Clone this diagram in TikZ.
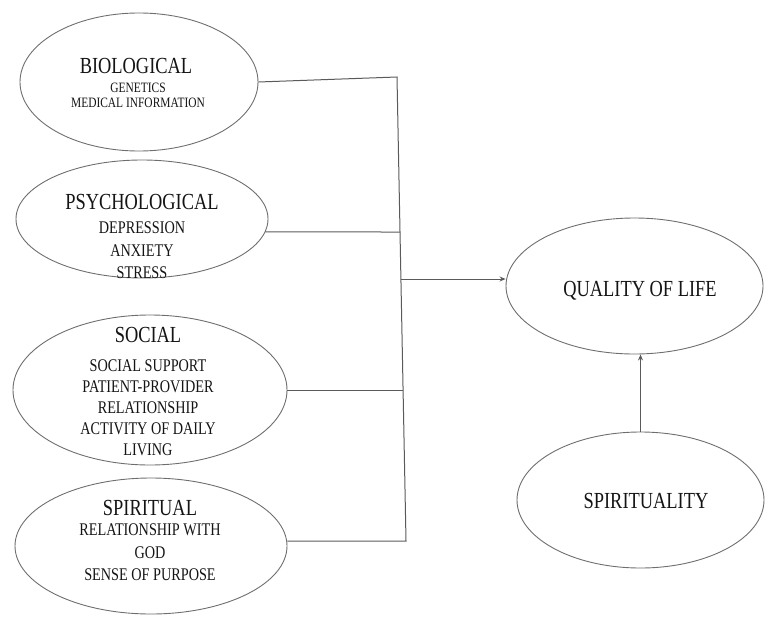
\documentclass[tikz,border=0pt]{standalone}
\usepackage{fontspec}
\setmainfont{Liberation Serif}[FakeStretch=0.8]
\usetikzlibrary{shapes.geometric,arrows.meta,calc}
\definecolor{ovalgray}{HTML}{6E6E6E}
\definecolor{linegray}{HTML}{5A5A5A}
\definecolor{txt}{HTML}{141414}
\begin{document}
\begin{tikzpicture}[x=1pt,y=-1pt,
  oval/.style={draw=ovalgray, line width=0.9pt, ellipse, inner sep=0pt},
  ttl/.style={font=\fontsize{23}{26}\selectfont, text=txt, inner sep=0pt, anchor=base},
  subtxt/.style={font=\fontsize{17.8}{22.5}\selectfont, align=center, inner sep=0pt, anchor=north, text=txt},
  smalltxt/.style={subtxt, font=\fontsize{14.3}{15}\selectfont},
  conn/.style={draw=linegray, line width=1pt},
  arr/.style={conn, -{Stealth[length=6pt,width=5pt]}}]
\useasboundingbox (0,0) rectangle (765,616);
% ellipses
\node[oval, minimum width=238pt, minimum height=138pt] (bio) at (139,82) {};
\node[oval, minimum width=252pt, minimum height=118pt] (psy) at (142,219) {};
\node[oval, minimum width=274pt, minimum height=150pt] (soc) at (150,390) {};
\node[oval, minimum width=272pt, minimum height=136pt] (spi) at (151,546) {};
\node[oval, minimum width=257pt, minimum height=136pt] (qol) at (634.5,286) {};
\node[oval, minimum width=247pt, minimum height=136pt] (sty) at (640.5,500) {};
% texts
\node[ttl] (bioT) at (136,73) {BIOLOGICAL};
\node[smalltxt] (bioS) at (138,83) {GENETICS\\MEDICAL INFORMATION};
\node[ttl] (psyT) at (142,209) {PSYCHOLOGICAL};
\node[subtxt] (psyS) at (142,222) {DEPRESSION\\ANXIETY\\STRESS};
\node[ttl] (socT) at (148,342) {SOCIAL};
\node[subtxt, font=\fontsize{17.8}{21}\selectfont] (socS) at (148,360) {SOCIAL SUPPORT\\PATIENT-PROVIDER\\RELATIONSHIP\\ACTIVITY OF DAILY\\LIVING};
\node[ttl] (spiT) at (150,515) {SPIRITUAL};
\node[subtxt] (spiS) at (150,524) {RELATIONSHIP WITH\\GOD\\SENSE OF PURPOSE};
\node[ttl] (qolT) at (640,296) {QUALITY OF LIFE};
\node[ttl] (styT) at (646,508) {SPIRITUALITY};
% connectors
\coordinate (vtop) at (397,77);
\coordinate (vbot) at (406,541);
\coordinate (jpsy) at (400,232);
\coordinate (jsoc) at (403,390);
\coordinate (jq) at (401,279);
\draw[conn] (bio.east) -- (vtop) -- (vbot) -- (vbot -| spi.east);
\draw[conn] (psy.-6) -- (jpsy);
\draw[conn] (soc.east) -- (jsoc);
\draw[arr] (jq) -- (jq -| qol.west);
\draw[arr] (sty.north) -- (sty.north |- qol.south);
\end{tikzpicture}
\end{document}
